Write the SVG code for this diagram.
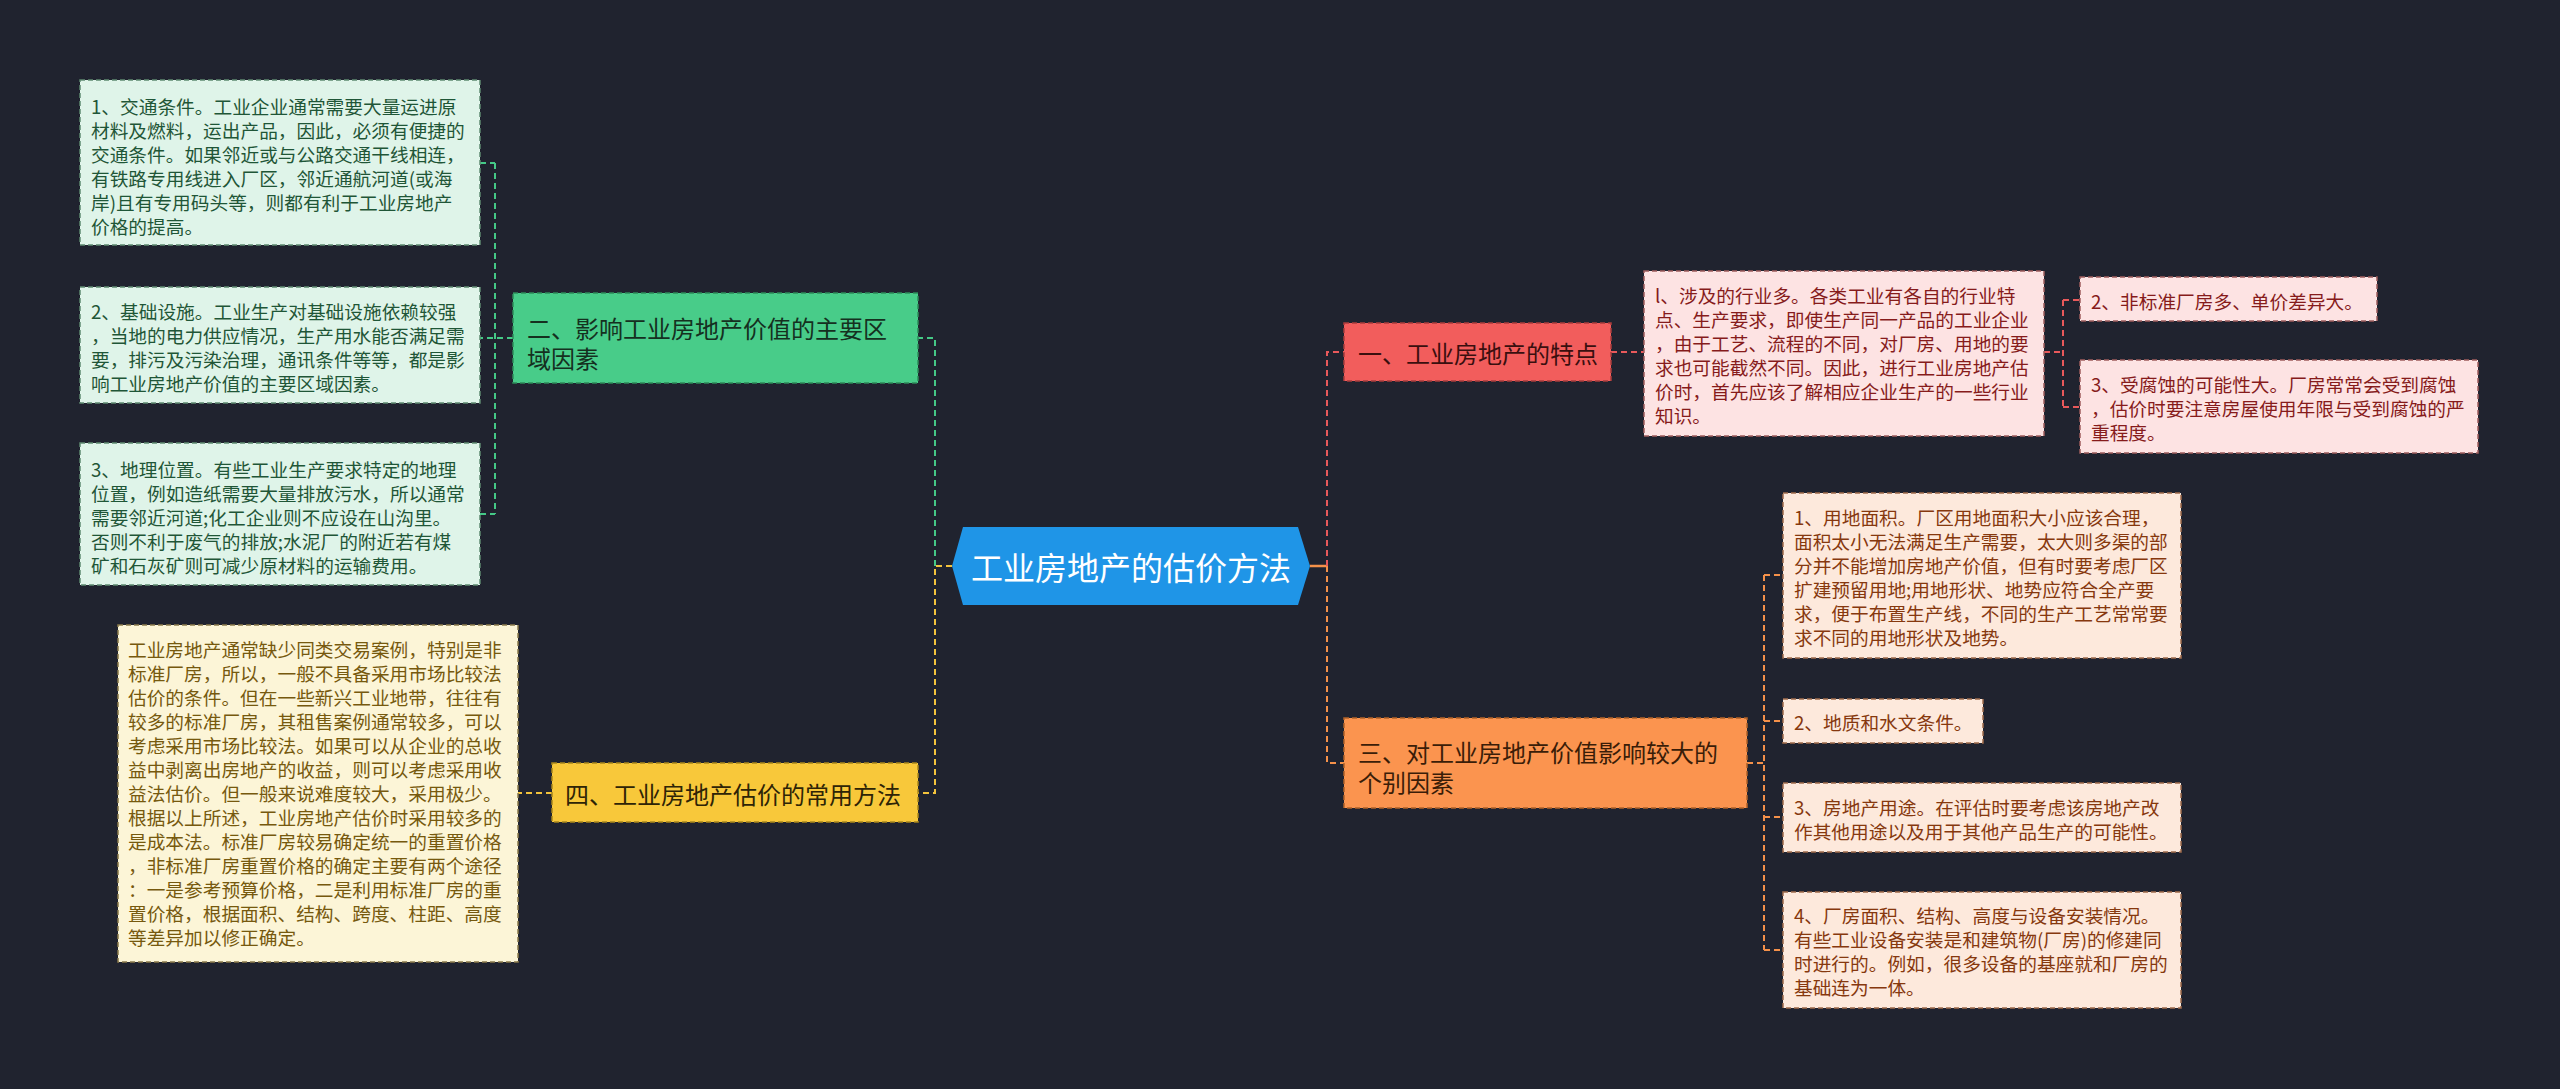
<svg xmlns="http://www.w3.org/2000/svg" width="2560" height="1089" viewBox="0 0 2560 1089">
<style>
text{font-family:"Noto Sans CJK SC","Noto Sans",sans-serif;dominant-baseline:central}
.leaf{font-size:18.7px}
.br{font-size:24px}
.c{fill:none;stroke-width:2;stroke-dasharray:6 4}
.g{stroke:#45c987}.y{stroke:#f3c33c}.r{stroke:#e8595b}.o{stroke:#f5914a}
.bx{stroke-width:1.5;stroke-dasharray:5 3}
.lg rect{fill:#dff4e9;stroke:#5f8a72}.lg text{fill:#1f5637}
.ly rect{fill:#fcf5d7;stroke:#8b7b4c}.ly text{fill:#76590e}
.lp rect{fill:#fde3e3;stroke:#9e5d5d}.lp text{fill:#861b1b}
.lo rect{fill:#fde9dc;stroke:#a06c4c}.lo text{fill:#86380e}
</style>
<rect width="2560" height="1089" fill="#20232f"/>
<g id="connectors">
<path class="c y" d="M952,566 H935 V793 H918"/>
<path class="c g" d="M935,566 V338 H918"/>
<path class="c g" d="M513,338 H480 M495,163 V514 M480,163 H495 M480,514 H495"/>
<path class="c y" d="M552,793 H518"/>
<path d="M1310,566 H1327" stroke="#f5914a" stroke-width="2.5" fill="none"/>
<path class="c r" d="M1327,566 V352 H1344"/>
<path class="c o" d="M1327,566 V763 H1344"/>
<path class="c r" d="M1611,352 H1644"/>
<path class="c r" d="M2044,352 H2063 M2063,300 V407 M2063,300 H2080 M2063,407 H2080"/>
<path class="c o" d="M1747,763 H1764 M1764,575 V950 M1764,575 H1783 M1764,721 H1783 M1764,817 H1783 M1764,950 H1783"/>
</g>
<g id="center">
<polygon points="952,566 963,527 1298,527 1310,566 1298,605 963,605" fill="#1f95e7"/>
<text x="1131" y="566" font-size="32" fill="#ffffff" text-anchor="middle">工业房地产的估价方法</text>
</g>
<g id="b2">
<rect class="bx" x="513" y="293" width="405" height="90" fill="#48cc89" stroke="#2c8a5a"/>
<text class="br" fill="#15301f"><tspan x="527" y="327">二、影响工业房地产价值的主要区</tspan><tspan x="527" y="357">域因素</tspan></text>
</g>
<g id="b4">
<rect class="bx" x="552" y="763" width="366" height="59" fill="#f8c83a" stroke="#a8861c"/>
<text class="br" x="565" y="793" fill="#2e2406">四、工业房地产估价的常用方法</text>
</g>
<g id="b1">
<rect class="bx" x="1344" y="323" width="267" height="58" fill="#f25d5c" stroke="#a83c3c"/>
<text class="br" x="1358" y="352" fill="#3a0f0f">一、工业房地产的特点</text>
</g>
<g id="b3">
<rect class="bx" x="1344" y="718" width="403" height="90" fill="#fb944f" stroke="#b06228"/>
<text class="br" fill="#3a1d08"><tspan x="1358" y="751">三、对工业房地产价值影响较大的</tspan><tspan x="1358" y="781">个别因素</tspan></text>
</g>
<g id="l1" class="lg">
<rect class="bx" x="80" y="80" width="400" height="165"/>
<text class="leaf"><tspan x="91" y="105">1、交通条件。工业企业通常需要大量运进原</tspan><tspan x="91" y="129">材料及燃料，运出产品，因此，必须有便捷的</tspan><tspan x="91" y="153">交通条件。如果邻近或与公路交通干线相连，</tspan><tspan x="91" y="177">有铁路专用线进入厂区，邻近通航河道(或海</tspan><tspan x="91" y="201">岸)且有专用码头等，则都有利于工业房地产</tspan><tspan x="91" y="225">价格的提高。</tspan></text>
</g>
<g id="l2" class="lg">
<rect class="bx" x="80" y="287" width="400" height="116"/>
<text class="leaf"><tspan x="91" y="310">2、基础设施。工业生产对基础设施依赖较强</tspan><tspan x="91" y="334">，当地的电力供应情况，生产用水能否满足需</tspan><tspan x="91" y="358">要，排污及污染治理，通讯条件等等，都是影</tspan><tspan x="91" y="382">响工业房地产价值的主要区域因素。</tspan></text>
</g>
<g id="l3" class="lg">
<rect class="bx" x="80" y="443" width="400" height="142"/>
<text class="leaf"><tspan x="91" y="468">3、地理位置。有些工业生产要求特定的地理</tspan><tspan x="91" y="492">位置，例如造纸需要大量排放污水，所以通常</tspan><tspan x="91" y="516">需要邻近河道;化工企业则不应设在山沟里。</tspan><tspan x="91" y="540">否则不利于废气的排放;水泥厂的附近若有煤</tspan><tspan x="91" y="564">矿和石灰矿则可减少原材料的运输费用。</tspan></text>
</g>
<g id="l4" class="ly">
<rect class="bx" x="118" y="625" width="400" height="337"/>
<text class="leaf"><tspan x="128" y="648">工业房地产通常缺少同类交易案例，特别是非</tspan><tspan x="128" y="672">标准厂房，所以，一般不具备采用市场比较法</tspan><tspan x="128" y="696">估价的条件。但在一些新兴工业地带，往往有</tspan><tspan x="128" y="720">较多的标准厂房，其租售案例通常较多，可以</tspan><tspan x="128" y="744">考虑采用市场比较法。如果可以从企业的总收</tspan><tspan x="128" y="768">益中剥离出房地产的收益，则可以考虑采用收</tspan><tspan x="128" y="792">益法估价。但一般来说难度较大，采用极少。</tspan><tspan x="128" y="816">根据以上所述，工业房地产估价时采用较多的</tspan><tspan x="128" y="840">是成本法。标准厂房较易确定统一的重置价格</tspan><tspan x="128" y="864">，非标准厂房重置价格的确定主要有两个途径</tspan><tspan x="128" y="888">：一是参考预算价格，二是利用标准厂房的重</tspan><tspan x="128" y="912">置价格，根据面积、结构、跨度、柱距、高度</tspan><tspan x="128" y="936">等差异加以修正确定。</tspan></text>
</g>
<g id="r1" class="lp">
<rect class="bx" x="1644" y="271" width="400" height="165"/>
<text class="leaf"><tspan x="1655" y="294">l、涉及的行业多。各类工业有各自的行业特</tspan><tspan x="1655" y="318">点、生产要求，即使生产同一产品的工业企业</tspan><tspan x="1655" y="342">，由于工艺、流程的不同，对厂房、用地的要</tspan><tspan x="1655" y="366">求也可能截然不同。因此，进行工业房地产估</tspan><tspan x="1655" y="390">价时，首先应该了解相应企业生产的一些行业</tspan><tspan x="1655" y="414">知识。</tspan></text>
</g>
<g id="r2" class="lp">
<rect class="bx" x="2080" y="277" width="297" height="44"/>
<text class="leaf" x="2091" y="300">2、非标准厂房多、单价差异大。</text>
</g>
<g id="r3" class="lp">
<rect class="bx" x="2080" y="360" width="398" height="93"/>
<text class="leaf"><tspan x="2091" y="383">3、受腐蚀的可能性大。厂房常常会受到腐蚀</tspan><tspan x="2091" y="407">，估价时要注意房屋使用年限与受到腐蚀的严</tspan><tspan x="2091" y="431">重程度。</tspan></text>
</g>
<g id="r4" class="lo">
<rect class="bx" x="1783" y="493" width="398" height="165"/>
<text class="leaf"><tspan x="1794" y="516">1、用地面积。厂区用地面积大小应该合理，</tspan><tspan x="1794" y="540">面积太小无法满足生产需要，太大则多渠的部</tspan><tspan x="1794" y="564">分并不能增加房地产价值，但有时要考虑厂区</tspan><tspan x="1794" y="588">扩建预留用地;用地形状、地势应符合全产要</tspan><tspan x="1794" y="612">求，便于布置生产线，不同的生产工艺常常要</tspan><tspan x="1794" y="636">求不同的用地形状及地势。</tspan></text>
</g>
<g id="r5" class="lo">
<rect class="bx" x="1783" y="699" width="200" height="44"/>
<text class="leaf" x="1794" y="721">2、地质和水文条件。</text>
</g>
<g id="r6" class="lo">
<rect class="bx" x="1783" y="783" width="398" height="69"/>
<text class="leaf"><tspan x="1794" y="806">3、房地产用途。在评估时要考虑该房地产改</tspan><tspan x="1794" y="830">作其他用途以及用于其他产品生产的可能性。</tspan></text>
</g>
<g id="r7" class="lo">
<rect class="bx" x="1783" y="892" width="398" height="116"/>
<text class="leaf"><tspan x="1794" y="914">4、厂房面积、结构、高度与设备安装情况。</tspan><tspan x="1794" y="938">有些工业设备安装是和建筑物(厂房)的修建同</tspan><tspan x="1794" y="962">时进行的。例如，很多设备的基座就和厂房的</tspan><tspan x="1794" y="986">基础连为一体。</tspan></text>
</g>
</svg>
